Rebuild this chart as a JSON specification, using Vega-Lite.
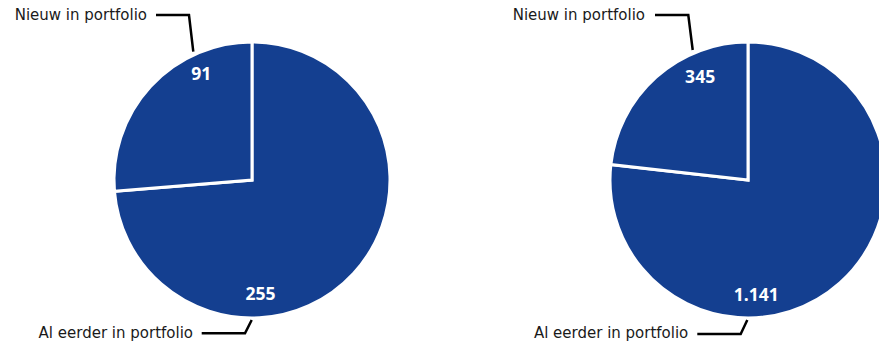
{
  "$schema": "https://vega.github.io/schema/vega-lite/v6.json",
  "padding": {"left": 4, "top": 0, "right": 0, "bottom": 0},
  "spacing": 0,
  "background": "white",
  "config": {"view": {"stroke": null}, "font": "Open Sans"},
  "datasets": {
    "slices": [
      {"chart": "A", "category": "Al eerder in portfolio", "order": 1, "value": 255, "label": "255"},
      {"chart": "A", "category": "Nieuw in portfolio", "order": 2, "value": 91, "label": "91"},
      {"chart": "B", "category": "Al eerder in portfolio", "order": 1, "value": 1141, "label": "1.141"},
      {"chart": "B", "category": "Nieuw in portfolio", "order": 2, "value": 345, "label": "345"}
    ],
    "leaders": [
      {"chart": "A", "line": "top", "step": 1, "x": -0.7007, "y": 1.2044},
      {"chart": "A", "line": "top", "step": 2, "x": -0.4599, "y": 1.2044},
      {"chart": "A", "line": "top", "step": 3, "x": -0.4285, "y": 0.9365},
      {"chart": "A", "line": "bottom", "step": 1, "x": -0.3672, "y": -1.119},
      {"chart": "A", "line": "bottom", "step": 2, "x": -0.0511, "y": -1.119},
      {"chart": "A", "line": "bottom", "step": 3, "x": -0.0022, "y": -1.0219},
      {"chart": "B", "line": "top", "step": 1, "x": -0.6788, "y": 1.2044},
      {"chart": "B", "line": "top", "step": 2, "x": -0.4358, "y": 1.2044},
      {"chart": "B", "line": "top", "step": 3, "x": -0.4036, "y": 0.9489},
      {"chart": "B", "line": "bottom", "step": 1, "x": -0.3701, "y": -1.1241},
      {"chart": "B", "line": "bottom", "step": 2, "x": -0.0533, "y": -1.1241},
      {"chart": "B", "line": "bottom", "step": 3, "x": -0.0051, "y": -1.0219}
    ],
    "labels": [
      {"chart": "A", "category": "Nieuw in portfolio", "x": -0.7664, "y": 1.2044},
      {"chart": "A", "category": "Al eerder in portfolio", "x": -0.4307, "y": -1.1146},
      {"chart": "B", "category": "Nieuw in portfolio", "x": -0.7518, "y": 1.2044},
      {"chart": "B", "category": "Al eerder in portfolio", "x": -0.4358, "y": -1.1146}
    ]
  },
  "hconcat": [
    {
      "width": 496,
      "height": 360,
      "layer": [
        {
          "data": {"name": "slices"},
          "transform": [{"filter": "datum.chart === 'A'"}],
          "mark": {"type": "arc", "outerRadius": 138, "stroke": "white", "strokeWidth": 3, "color": "#143f90"},
          "encoding": {
            "theta": {"field": "value", "type": "quantitative", "stack": true},
            "order": {"field": "order", "type": "quantitative"}
          }
        },
        {
          "data": {"name": "slices"},
          "transform": [{"filter": "datum.chart === 'A'"}],
          "mark": {"type": "text", "radius": 117, "thetaOffset": 0.377, "color": "white", "fontWeight": "bold", "fontSize": 17.5, "baseline": "middle", "align": "center"},
          "encoding": {
            "theta": {"field": "value", "type": "quantitative", "stack": true},
            "order": {"field": "order", "type": "quantitative"},
            "text": {"condition": {"test": "datum.category === 'Nieuw in portfolio'", "field": "label"}, "value": ""}
          }
        },
        {
          "data": {"name": "slices"},
          "transform": [{"filter": "datum.chart === 'A'"}],
          "mark": {"type": "text", "radius": 115, "thetaOffset": 0.752, "color": "white", "fontWeight": "bold", "fontSize": 17.5, "baseline": "middle", "align": "center"},
          "encoding": {
            "theta": {"field": "value", "type": "quantitative", "stack": true},
            "order": {"field": "order", "type": "quantitative"},
            "text": {"condition": {"test": "datum.category === 'Al eerder in portfolio'", "field": "label"}, "value": ""}
          }
        },
        {
          "data": {"name": "leaders"},
          "transform": [{"filter": "datum.chart === 'A'"}],
          "mark": {"type": "line", "color": "black", "strokeWidth": 2.5, "strokeJoin": "miter"},
          "encoding": {
            "x": {"field": "x", "type": "quantitative", "scale": {"domain": [-1.8102, 1.8102], "nice": false, "zero": false}, "axis": null},
            "y": {"field": "y", "type": "quantitative", "scale": {"domain": [-1.3139, 1.3139], "nice": false, "zero": false}, "axis": null},
            "detail": {"field": "line"},
            "order": {"field": "step", "type": "quantitative"}
          }
        },
        {
          "data": {"name": "labels"},
          "transform": [{"filter": "datum.chart === 'A'"}],
          "mark": {"type": "text", "align": "right", "baseline": "middle", "fontSize": 15, "font": "DejaVu Sans", "color": "#1a1a1a"},
          "encoding": {
            "x": {"field": "x", "type": "quantitative", "scale": {"domain": [-1.8102, 1.8102], "nice": false, "zero": false}, "axis": null},
            "y": {"field": "y", "type": "quantitative", "scale": {"domain": [-1.3139, 1.3139], "nice": false, "zero": false}, "axis": null},
            "text": {"field": "category"}
          }
        }
      ]
    },
    {
      "width": 496,
      "height": 360,
      "layer": [
        {
          "data": {"name": "slices"},
          "transform": [{"filter": "datum.chart === 'B'"}],
          "mark": {"type": "arc", "outerRadius": 138, "stroke": "white", "strokeWidth": 3, "color": "#143f90"},
          "encoding": {
            "theta": {"field": "value", "type": "quantitative", "stack": true},
            "order": {"field": "order", "type": "quantitative"}
          }
        },
        {
          "data": {"name": "slices"},
          "transform": [{"filter": "datum.chart === 'B'"}],
          "mark": {"type": "text", "radius": 113, "thetaOffset": 0.292, "color": "white", "fontWeight": "bold", "fontSize": 17.5, "baseline": "middle", "align": "center"},
          "encoding": {
            "theta": {"field": "value", "type": "quantitative", "stack": true},
            "order": {"field": "order", "type": "quantitative"},
            "text": {"condition": {"test": "datum.category === 'Nieuw in portfolio'", "field": "label"}, "value": ""}
          }
        },
        {
          "data": {"name": "slices"},
          "transform": [{"filter": "datum.chart === 'B'"}],
          "mark": {"type": "text", "radius": 116, "thetaOffset": 0.659, "color": "white", "fontWeight": "bold", "fontSize": 17.5, "baseline": "middle", "align": "center"},
          "encoding": {
            "theta": {"field": "value", "type": "quantitative", "stack": true},
            "order": {"field": "order", "type": "quantitative"},
            "text": {"condition": {"test": "datum.category === 'Al eerder in portfolio'", "field": "label"}, "value": ""}
          }
        },
        {
          "data": {"name": "leaders"},
          "transform": [{"filter": "datum.chart === 'B'"}],
          "mark": {"type": "line", "color": "black", "strokeWidth": 2.5, "strokeJoin": "miter"},
          "encoding": {
            "x": {"field": "x", "type": "quantitative", "scale": {"domain": [-1.8102, 1.8102], "nice": false, "zero": false}, "axis": null},
            "y": {"field": "y", "type": "quantitative", "scale": {"domain": [-1.3139, 1.3139], "nice": false, "zero": false}, "axis": null},
            "detail": {"field": "line"},
            "order": {"field": "step", "type": "quantitative"}
          }
        },
        {
          "data": {"name": "labels"},
          "transform": [{"filter": "datum.chart === 'B'"}],
          "mark": {"type": "text", "align": "right", "baseline": "middle", "fontSize": 15, "font": "DejaVu Sans", "color": "#1a1a1a"},
          "encoding": {
            "x": {"field": "x", "type": "quantitative", "scale": {"domain": [-1.8102, 1.8102], "nice": false, "zero": false}, "axis": null},
            "y": {"field": "y", "type": "quantitative", "scale": {"domain": [-1.3139, 1.3139], "nice": false, "zero": false}, "axis": null},
            "text": {"field": "category"}
          }
        }
      ]
    }
  ]
}
